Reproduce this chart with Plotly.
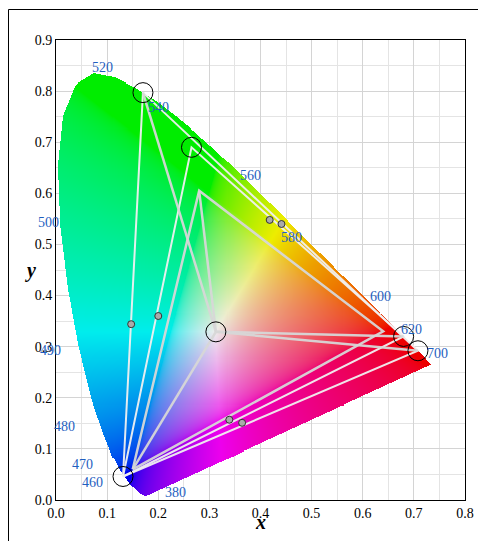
import numpy as np
import plotly.graph_objects as go

# spectral locus (CIE 1931), wavelength nm -> x, y
wl = [380, 440, 450, 460, 470, 475, 480, 485, 490, 495, 500, 505, 510, 515, 520, 525, 530,
      535, 540, 545, 550, 555, 560, 565, 570, 575, 580, 585, 590, 595, 600, 605, 610,
      615, 620, 630, 640, 650, 700]
loc_x = [0.1741, 0.1644, 0.1566, 0.1440, 0.1241, 0.1096, 0.0913, 0.0687, 0.0454, 0.0235,
         0.0082, 0.0039, 0.0139, 0.0389, 0.0743, 0.1142, 0.1547, 0.1929, 0.2296, 0.2658,
         0.3016, 0.3373, 0.3731, 0.4087, 0.4441, 0.4788, 0.5125, 0.5448, 0.5752, 0.6029,
         0.6270, 0.6482, 0.6658, 0.6801, 0.6915, 0.7079, 0.7190, 0.7260, 0.7347]
loc_y = [0.0050, 0.0109, 0.0177, 0.0297, 0.0578, 0.0868, 0.1327, 0.2007, 0.2950, 0.4127,
         0.5384, 0.6548, 0.7502, 0.8120, 0.8338, 0.8262, 0.8059, 0.7816, 0.7543, 0.7243,
         0.6923, 0.6589, 0.6245, 0.5896, 0.5547, 0.5202, 0.4866, 0.4544, 0.4242, 0.3965,
         0.3725, 0.3514, 0.3340, 0.3197, 0.3083, 0.2920, 0.2809, 0.2740, 0.2653]

# wavelength labels (chromaticity coordinates of label centres)
lab_text = ["520", "540", "560", "580", "500", "490", "480", "470", "460", "380", "600", "620", "700"]
lab_x = [0.071, 0.179, 0.380, 0.459, -0.033, -0.029, -0.002, 0.033, 0.052, 0.212, 0.655, 0.715, 0.766]
lab_y = [0.865, 0.787, 0.654, 0.514, 0.542, 0.274, 0.125, 0.051, 0.016, -0.004, 0.399, 0.333, 0.268]

# gamut primaries
white = (0.3127, 0.329)
tri1_x = [0.131, 0.170, 0.708]
tri1_y = [0.046, 0.797, 0.292]
tri2_x = [0.131, 0.265, 0.680]
tri2_y = [0.046, 0.690, 0.320]
tri3_x = [0.150, 0.280, 0.640]
tri3_y = [0.060, 0.605, 0.330]
circ_x = [0.170, 0.265, 0.680, 0.708, 0.131, 0.3127]
circ_y = [0.797, 0.690, 0.320, 0.292, 0.046, 0.329]
dot_x = [0.418, 0.441, 0.147, 0.200, 0.339, 0.364]
dot_y = [0.548, 0.540, 0.344, 0.360, 0.157, 0.151]

X_MAX, Y_MAX = 0.8, 0.9

# colour fill of the horseshoe
nx, ny = 380, 430
dx, dy = 0.75 / nx, 0.86 / ny
gx = (np.arange(nx) + 0.5) * dx
gy = (np.arange(ny) + 0.5) * dy
X, Y = np.meshgrid(gx, gy)
px, py = np.array(loc_x), np.array(loc_y)
inside = np.zeros(X.shape, dtype=bool)
n = len(px)
for i in range(n):
    j = (i - 1) % n
    xi, yi, xj, yj = px[i], py[i], px[j], py[j]
    cond = ((yi > Y) != (yj > Y)) & (X < (xj - xi) * (Y - yi) / (yj - yi + 1e-12) + xi)
    inside ^= cond
Xc = X / Y
Zc = (1 - X - Y) / Y
M = np.array([[3.2406, -1.5372, -0.4986], [-0.9689, 1.8758, 0.0415], [0.0557, -0.2040, 1.0570]])
rgb = np.stack([M[k, 0] * Xc + M[k, 1] + M[k, 2] * Zc for k in range(3)], axis=-1)
rgb = np.clip(rgb, 0, None)
rgb = rgb / rgb.max(axis=-1, keepdims=True)
rgb = np.where(rgb <= 0.0031308, 12.92 * rgb, 1.055 * rgb ** (1 / 2.4) - 0.055)
rgb = rgb * 0.93
img = np.zeros((ny, nx, 4), dtype=np.uint8)
img[..., :3] = np.clip(rgb * 255, 0, 255).astype(np.uint8)
img[..., 3] = np.where(inside, 255, 0)

fig = go.Figure()
fig.add_trace(go.Image(z=img, colormodel="rgba", x0=dx / 2, dx=dx, y0=dy / 2, dy=dy, hoverinfo="skip"))

line_w = dict(color="rgba(240,240,240,0.95)", width=2)
line_g = dict(color="rgba(215,215,215,0.95)", width=2.5)
for tx, ty, ln in [(tri1_x, tri1_y, line_w), (tri2_x, tri2_y, line_w), (tri3_x, tri3_y, line_g)]:
    fig.add_trace(go.Scatter(x=tx + [tx[0]], y=ty + [ty[0]], mode="lines", line=ln, showlegend=False))
for vx, vy in [(tri1_x[1], tri1_y[1]), (tri3_x[1], tri3_y[1]), (tri2_x[2], tri2_y[2]),
               (tri1_x[2], tri1_y[2]), (tri3_x[0], tri3_y[0])]:
    fig.add_trace(go.Scatter(x=[white[0], vx], y=[white[1], vy], mode="lines", line=line_g, showlegend=False))

fig.add_trace(go.Scatter(x=circ_x, y=circ_y, mode="markers", showlegend=False,
                         marker=dict(size=20, symbol="circle-open", color="black", line=dict(width=1))))
fig.add_trace(go.Scatter(x=dot_x, y=dot_y, mode="markers", showlegend=False,
                         marker=dict(size=7, color="#aaaaaa", line=dict(color="#333333", width=1))))

for t, x, y in zip(lab_text, lab_x, lab_y):
    fig.add_annotation(x=x / X_MAX, y=y / Y_MAX, xref="paper", yref="paper", text=t, showarrow=False,
                       font=dict(color="#1f5fbf", size=14))
fig.add_annotation(x=-0.072, y=0.5, xref="paper", yref="paper", text="<b><i>y</i></b>",
                   showarrow=False, font=dict(size=20))
fig.add_annotation(x=0.5, y=-0.075, xref="paper", yref="paper", text="<b><i>x</i></b>",
                   showarrow=False, font=dict(size=20))

font = "Liberation Serif"
fig.update_layout(
    width=486, height=541,
    margin=dict(l=45, r=26, t=32, b=49, autoexpand=False),
    paper_bgcolor="white", plot_bgcolor="white",
    font=dict(family=font, size=14, color="black"),
    xaxis=dict(range=[0, X_MAX], dtick=0.1, tickformat=".1f", showgrid=True, gridcolor="#d4d4d4",
               minor=dict(dtick=0.05, showgrid=True, gridcolor="#e4e4e4"), automargin=False,
               zeroline=False, showline=True, linecolor="black", mirror=True),
    yaxis=dict(range=[0, Y_MAX], dtick=0.1, tickformat=".1f", showgrid=True, gridcolor="#d4d4d4",
               minor=dict(dtick=0.05, showgrid=True, gridcolor="#e4e4e4"), automargin=False,
               zeroline=False, showline=True, linecolor="black", mirror=True, autorange=False),
    shapes=[dict(type="rect", xref="paper", yref="paper", x0=-44.5 / 415, y0=-47.5 / 460,
                 x1=440.5 / 415, y1=490.5 / 460, line=dict(color="black", width=1))],
)
fig.write_html("out.html")
